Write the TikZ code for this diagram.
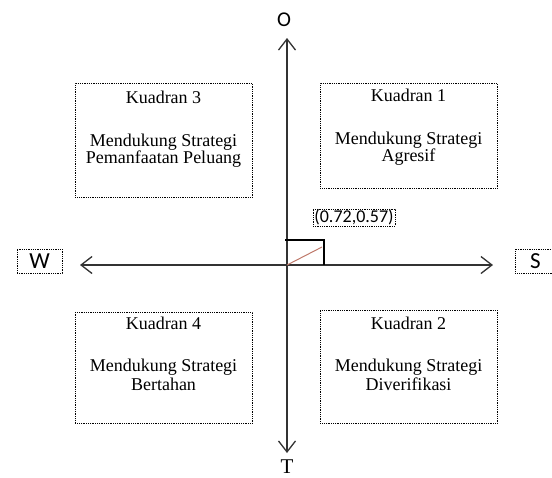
\documentclass[tikz,border=0pt]{standalone}
\usepackage{fontspec}
\setmainfont{Liberation Serif}
\newfontfamily\carl{Carlito}
\usetikzlibrary{arrows.meta}
\begin{document}
\begin{tikzpicture}[x=1pt,y=-1pt,
  qbox/.style={draw=black, line width=0.9pt, dash pattern=on 0.9pt off 0.9pt, minimum width=177pt, inner sep=0pt, anchor=north west},
  qtxt/.style={font=\fontsize{18}{18}\selectfont, inner sep=0pt},
  axis/.style={draw=black!80, line width=1.4pt, {Straight Barb[length=11pt,width=17pt,line width=1.3pt]}-{Straight Barb[length=11pt,width=17pt,line width=1.3pt]}},
  lbl/.style={draw=black, line width=0.9pt, dash pattern=on 0.9pt off 0.9pt, inner sep=1.5pt}
]
\useasboundingbox (0,0) rectangle (552,477);
% quadrant boxes
\node[qbox, minimum height=114pt] (q3) at (75,83) {};
\node[qbox, minimum height=105pt] (q1) at (320,83) {};
\node[qbox, minimum height=111pt] (q4) at (75,312) {};
\node[qbox, minimum height=113pt] (q2) at (320,310) {};
% texts
\node[qtxt] (q3a) at (163.5,97) {Kuadran 3};
\node[qtxt] (q3b) at (163.5,142) {Mendukung Strategi};
\node[qtxt] (q3c) at (163.5,159) {Pemanfaatan Peluang};
\node[qtxt] (q1a) at (408.5,95) {Kuadran 1};
\node[qtxt] (q1b) at (408.5,140) {Mendukung Strategi};
\node[qtxt] (q1c) at (408.5,157) {Agresif};
\node[qtxt] (q4a) at (163.5,323) {Kuadran 4};
\node[qtxt] (q4b) at (163.5,367) {Mendukung Strategi};
\node[qtxt] (q4c) at (163.5,384) {Bertahan};
\node[qtxt] (q2a) at (408.5,323) {Kuadran 2};
\node[qtxt] (q2b) at (408.5,367) {Mendukung Strategi};
\node[qtxt] (q2c) at (408.5,384) {Diverifikasi};
% axis labels
\node[font=\carl\fontsize{21}{21}\selectfont, inner sep=0pt] (O) at (284,20) {O};
\node[font=\fontsize{21}{21}\selectfont, inner sep=0pt] (T) at (287,467) {T};
\node[lbl, font=\carl\fontsize{23}{23}\selectfont, minimum width=45pt, minimum height=24pt] (W) at (39.5,261) {W};
\node[lbl, font=\carl\fontsize{23}{23}\selectfont, minimum width=40pt, minimum height=24pt, anchor=west] (S) at (515,261) {S};
% axes
\coordinate (ytop) at (287,38);
\coordinate (ybot) at (287,453);
\coordinate (xl) at (80,265);
\coordinate (xr) at (493,265);
\coordinate (orig) at (287,265);
\draw[axis] (ytop) -- (ybot);
\draw[axis] (xl) -- (xr);
% point marker
\coordinate (pc) at (324,240);
\coordinate (pl) at (285,240);
\coordinate (pb) at (324,265);
\draw[black, line width=1.2pt] (pl) -- (pc) -- (pb);
\draw[color={rgb,255:red,190;green,120;blue,105}, line width=1pt] (orig) -- (322,247);
\node[lbl, font=\carl\fontsize{18}{18}\selectfont, inner sep=0.5pt, minimum width=82pt, minimum height=17pt] (pt) at (354,217.5) {(0.72,0.57)};
\end{tikzpicture}
\end{document}
